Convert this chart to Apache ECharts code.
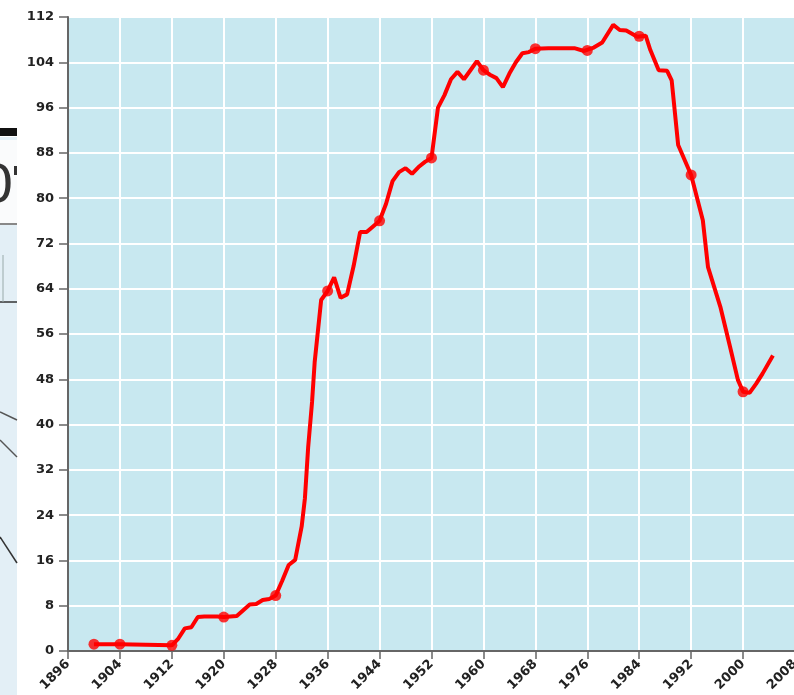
<!DOCTYPE html>
<html>
<head>
<meta charset="utf-8">
<script src="https://cdn.jsdelivr.net/npm/echarts@6/dist/echarts.min.js"></script>
<style>
html,body{margin:0;padding:0;background:#fff;}
#c{width:794px;height:695px;}
</style>
</head>
<body>
<div id="c"></div>
<script>
// Data
var years = [1900,1904,1912,1913,1914,1915,1916,1917,1918,1919,1920,1921,1922,1923,1924,1925,1926,1927,1928,1929,1930,1931,1932,1932.5,1933,1933.6,1934,1935,1936,1937,1938,1939,1940,1941,1942,1943,1944,1945,1946,1947,1948,1949,1950,1951,1952,1953,1954,1955,1956,1957,1958,1959,1960,1961,1962,1963,1964,1965,1966,1967,1968,1970,1972,1974,1975.5,1977,1978.3,1980,1981,1982,1983.7,1985,1985.7,1987,1988.3,1989,1990,1992,1993.8,1994.6,1996.5,1998,1999.2,2000,2001,2002,2003,2004.6];
var values = [1.2,1.2,1.0,2.2,4.0,4.2,6.0,6.1,6.1,6.1,6.0,6.1,6.2,7.2,8.2,8.3,9.0,9.2,9.8,12.4,15.2,16.1,22,27,36,44,51,62,63.6,66,62.4,63,68,74,74,75,76,79,83,84.6,85.3,84.3,85.5,86.4,87.1,96,98.2,101,102.3,101,102.6,104.2,102.6,101.8,101.2,99.6,102,104,105.6,105.8,106.4,106.5,106.5,106.5,106.0,106.6,107.5,110.6,109.7,109.6,108.5,108.7,106.2,102.6,102.5,100.8,89.4,84.1,76.1,67.8,60.8,53.7,47.9,45.8,45.6,47.2,49.0,52.2];
var markerYears = [1900,1904,1912,1920,1928,1936,1944,1952,1960,1968,1976,1984,1992,2000];
var markerValues = [1.2,1.2,1.0,6.0,9.8,63.6,76,87.1,102.6,106.4,106.1,108.6,84.1,45.8];
var xMin = 1896, xMax = 2008, xStep = 8;
var yMin = 0, yMax = 112, yStep = 8;

var lineData = years.map(function(y,i){return [y, values[i]];});
var markData = markerYears.map(function(y,i){return [y, markerValues[i]];});

var chart = echarts.init(document.getElementById('c'), null, {renderer:'canvas'});
var labelFont = {fontFamily:'DejaVu Sans', fontSize:13, color:'#222', fontWeight:'bold'};
chart.setOption({
  animation:false,
  backgroundColor:'#ffffff',
  graphic:[
    {type:'rect', shape:{x:0,y:137,width:17,height:558}, style:{fill:'#e3eff6'}, z:-10},
    {type:'rect', shape:{x:0,y:140,width:17,height:85}, style:{fill:'#fafbfc'}, z:-9},
    {type:'rect', shape:{x:0,y:128,width:17,height:8}, style:{fill:'#111'}, z:-8},
    {type:'text', x:14, y:188, style:{text:"0", font:'52px DejaVu Sans', fill:'#333', textAlign:'right', textVerticalAlign:'middle'}, z:-8},
    {type:'rect', shape:{x:14,y:166,width:3,height:9}, style:{fill:'#333'}, z:-8},
    {type:'line', shape:{x1:0,y1:224,x2:17,y2:224}, style:{stroke:'#888', lineWidth:2}, z:-8},
    {type:'line', shape:{x1:0,y1:302,x2:17,y2:302}, style:{stroke:'#333', lineWidth:1.5}, z:-8},
    {type:'line', shape:{x1:3,y1:255,x2:3,y2:302}, style:{stroke:'#9aa', lineWidth:1}, z:-8},
    {type:'line', shape:{x1:0,y1:412,x2:17,y2:420}, style:{stroke:'#555', lineWidth:1.5}, z:-8},
    {type:'line', shape:{x1:0,y1:440,x2:17,y2:457}, style:{stroke:'#555', lineWidth:1.5}, z:-8},
    {type:'line', shape:{x1:0,y1:537,x2:17,y2:563}, style:{stroke:'#333', lineWidth:1.5}, z:-8}
  ],
  grid:{left:68, top:17, right:-1, bottom:44, outerBoundsMode:'none', show:true, backgroundColor:'#c8e8f0', borderWidth:0, containLabel:false},
  xAxis:{
    type:'value', min:xMin, max:xMax, interval:xStep,
    axisLine:{show:true, lineStyle:{color:'#666', width:2}},
    axisTick:{show:true, length:8, lineStyle:{color:'#666', width:1.5}},
    axisLabel:Object.assign({rotate:45, margin:11, showMaxLabel:true, formatter:function(v){return String(v);}}, labelFont),
    splitLine:{show:true, lineStyle:{color:'#ffffff', width:2}}
  },
  yAxis:{
    type:'value', min:yMin, max:yMax, interval:yStep,
    axisLine:{show:true, lineStyle:{color:'#666', width:2}},
    axisTick:{show:true, length:9, lineStyle:{color:'#666', width:1.5}},
    axisLabel:Object.assign({margin:14}, labelFont),
    splitLine:{show:true, lineStyle:{color:'#ffffff', width:2}}
  },
  series:[
    {type:'line', data:lineData, showSymbol:false, symbol:'none', lineStyle:{color:'#ff0000', width:4}, z:3},
    {type:'scatter', data:markData, symbol:'circle', symbolSize:11, itemStyle:{color:'#ff0000'}, z:4}
  ]
});
</script>
</body>
</html>
